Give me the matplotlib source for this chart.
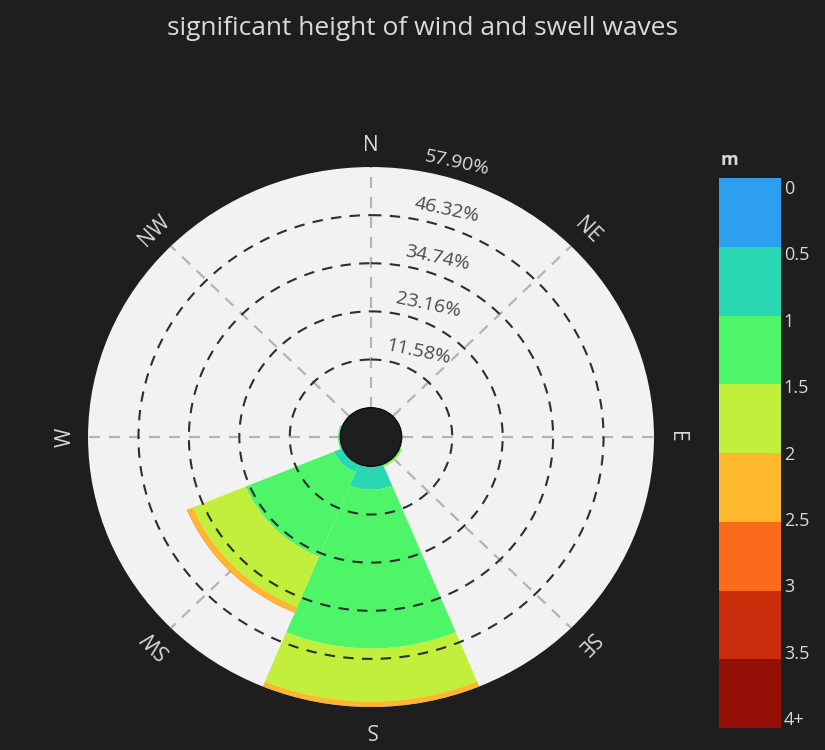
import numpy as np
import matplotlib
matplotlib.use("Agg")
import matplotlib.pyplot as plt
from matplotlib.patches import Circle
from matplotlib.transforms import offset_copy

plt.rcParams['font.family'] = ['Open Sans', 'DejaVu Sans']

# Data: frequency (%) per direction and wave-height bin
directions = ['N', 'NE', 'E', 'SE', 'S', 'SW', 'W', 'NW']
bearings = [0, 45, 90, 135, 180, 225, 270, 315]
bin_labels = ['0', '0.5', '1', '1.5', '2', '2.5', '3', '3.5', '4+']
f_0_05 = [0, 0, 0, 0, 0.1, 0.1, 0, 0]
f_05_1 = [0, 0, 0, 0.1, 5.5, 2.0, 0.2, 0]
f_1_15 = [0, 0, 0, 0.4, 38.2, 22.0, 0.3, 0]
f_15_2 = [0, 0, 0, 0.2, 12.8, 13.1, 0, 0]
f_2_25 = [0, 0, 0, 0, 1.2, 1.4, 0, 0]
f_25_3 = [0, 0, 0, 0, 0.1, 0.1, 0, 0]
f_3_35 = [0, 0, 0, 0, 0, 0, 0, 0]
f_35_4 = [0, 0, 0, 0, 0, 0, 0, 0]
series = [f_0_05, f_05_1, f_1_15, f_15_2, f_2_25, f_25_3, f_3_35, f_35_4]
colors = ['#2c9ff0', '#29d8b3', '#4ef569', '#c2ef3b',
          '#fdb82b', '#fc6b1b', '#cb2c0c', '#951006']
r_max = 57.90
r_ticks = [r_max * k / 5 for k in range(1, 6)]

bg = '#1e1e1e'
fg = '#d9d9d9'

fig = plt.figure(figsize=(8.25, 7.5), dpi=100, facecolor=bg)
fig.text(0.512, 0.962, 'significant height of wind and swell waves',
         color=fg, fontsize=19, ha='center', va='center')

ax = fig.add_axes([0.1067, 0.0573, 0.686, 0.72], projection='polar')
ax.set_aspect('auto')
ax.set_facecolor('#f2f2f2')
ax.set_theta_zero_location('N')
ax.set_theta_direction(-1)
hole = 0.1089
ax.set_rorigin(-hole * r_max / (1 - hole))
ax.set_rlim(0, r_max)
ax.grid(False)
ax.set_xticks([])
ax.set_yticks([])
for sp in ax.spines.values():
    sp.set_visible(False)

theta = np.radians(bearings)
# angular grid lines (under the bars)
for t in theta:
    ax.plot([t, t], [0, r_max], color='#b4b4b4', lw=1.6,
            ls=(0, (5, 4)), zorder=1)

# stacked bars, skipping empty segments
bottom = np.zeros(len(directions))
for vals, c in zip(series, colors):
    vals = np.array(vals, dtype=float)
    m = vals > 0
    if m.any():
        ax.bar(theta[m], vals[m], width=np.radians(45), bottom=bottom[m],
               color=c, linewidth=0, zorder=2)
    bottom += vals

# radial grid circles (over the bars)
tt = np.linspace(0, 2 * np.pi, 500)
for v in r_ticks[:-1]:
    ax.plot(tt, np.full_like(tt, v), color='#2e2e2e', lw=1.5,
            ls=(0, (5, 4)), zorder=3)

# hole in the middle
ax.add_patch(Circle((0.5, 0.5), 0.5 * hole, transform=ax.transAxes,
                    facecolor=bg, edgecolor='none', zorder=4))

# radial tick labels
lab_tr = offset_copy(ax.transData, fig=fig, x=32, y=9, units='dots')
for v in r_ticks:
    on_edge = v >= r_max - 1e-6
    ax.text(np.radians(11), v, '%.2f%%' % v, transform=lab_tr,
            ha='center', va='center', rotation=-12, fontsize=14,
            color=fg if on_edge else '#4a4a4a', zorder=5, clip_on=False,
            bbox=None if on_edge else dict(facecolor='#f2f2f2',
                                           edgecolor='none', pad=0.5))

# direction labels
for d, b in zip(directions, bearings):
    ax.text(np.radians(b), r_max * 1.09, d, ha='center', va='center',
            rotation=-b, rotation_mode='anchor', fontsize=15, color=fg,
            clip_on=False)

# colour bar
cax = fig.add_axes([0.8715, 0.0293, 0.0752, 0.7333])
for i, c in enumerate(colors):
    cax.bar(0, 1, bottom=i, width=1, color=c, linewidth=0)
cax.set_xlim(-0.5, 0.5)
cax.set_ylim(len(colors), 0)
cax.set_xticks([])
cax.yaxis.tick_right()
cax.set_yticks(np.linspace(0.13, 7.855, len(bin_labels)))
cax.set_yticklabels(bin_labels)
cax.tick_params(axis='y', length=0, pad=2, labelsize=13, labelcolor=fg)
for sp in cax.spines.values():
    sp.set_visible(False)
fig.text(0.874, 0.787, 'm', color=fg, fontsize=13, fontweight='bold',
         ha='left', va='center')

fig.savefig('out.png', dpi=100, facecolor=bg)
